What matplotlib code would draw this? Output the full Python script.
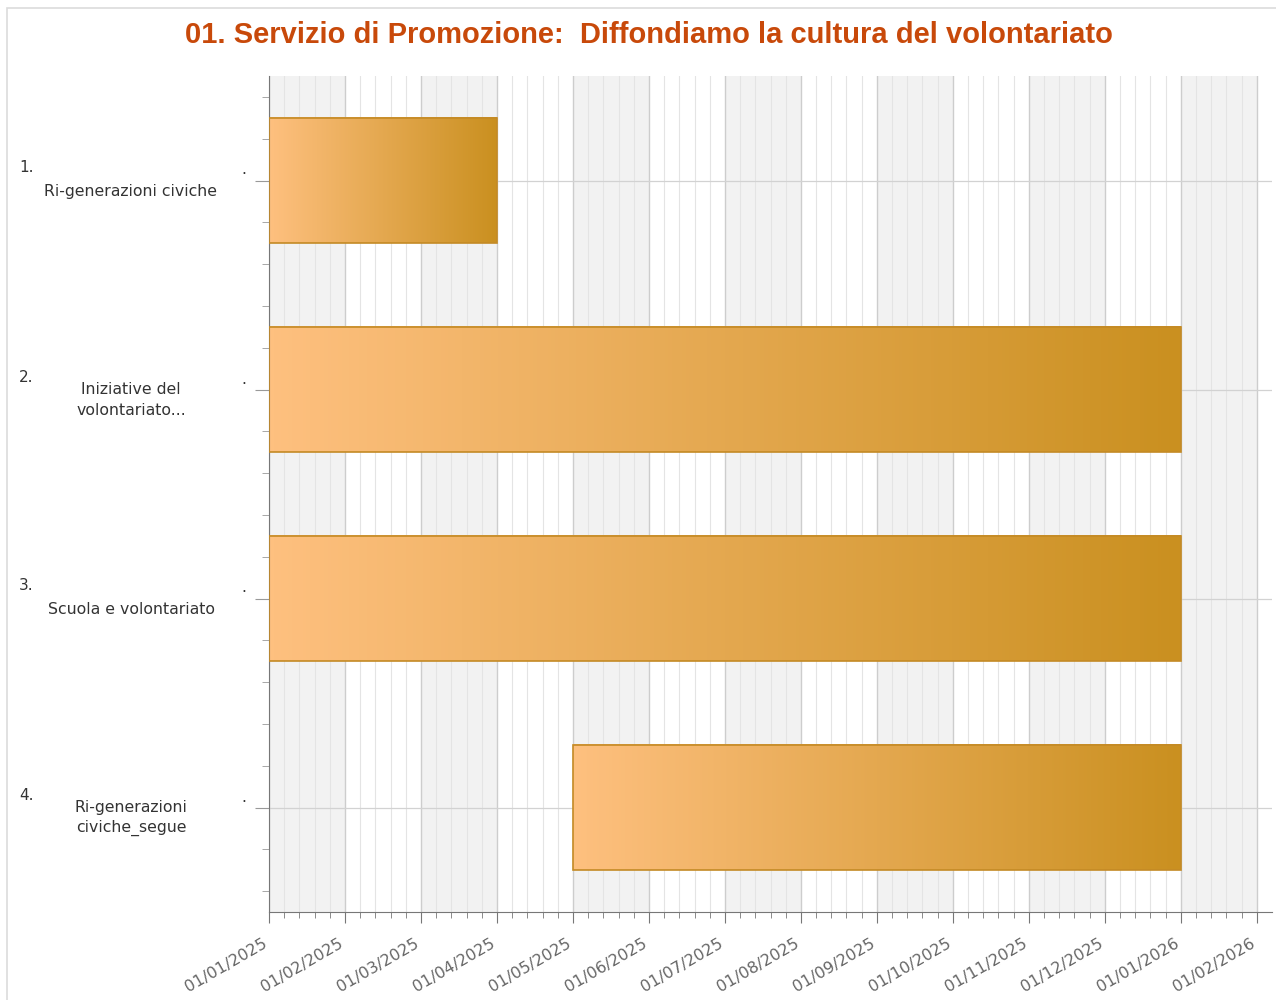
import numpy as np
import matplotlib
matplotlib.use("Agg")
import matplotlib.pyplot as plt
import matplotlib.transforms as mtransforms
from matplotlib.colors import LinearSegmentedColormap
from matplotlib.patches import Rectangle
import calendar

# data
task_nums = ["1.", "2.", "3.", "4."]
task_names = ["Ri-generazioni civiche", "Iniziative del\nvolontariato...",
              "Scuola e volontariato", "Ri-generazioni\nciviche_segue"]
starts = ["2025-01-01", "2025-01-01", "2025-01-01", "2025-05-01"]
ends = ["2025-04-01", "2026-01-01", "2026-01-01", "2026-01-01"]
month_labels = ["01/01/2025", "01/02/2025", "01/03/2025", "01/04/2025", "01/05/2025",
                "01/06/2025", "01/07/2025", "01/08/2025", "01/09/2025", "01/10/2025",
                "01/11/2025", "01/12/2025", "01/01/2026", "01/02/2026"]

title = "01. Servizio di Promozione:  Diffondiamo la cultura del volontariato"


# the chart puts every month at the same width, so work in month units
def month_pos(s):
    y, m, d = (int(v) for v in s.split("-"))
    return (y - 2025) * 12 + (m - 1) + (d - 1) / calendar.monthrange(y, m)[1]


fig = plt.figure(figsize=(12.76, 10), dpi=100)
fig.patches.append(Rectangle((7 / 1276, -0.01), 1, 1.002, transform=fig.transFigure,
                             fill=False, edgecolor="#dcdcdc", lw=1.2))
ax = fig.add_axes([269 / 1276, 88 / 1000, 1003 / 1276, 836 / 1000])

xmax = 13.2
n_m = len(month_labels)

# alternating month bands
for i in range(n_m):
    if i % 2 == 0:
        ax.axvspan(i, min(i + 1, xmax), color="#f2f2f2", zorder=0, lw=0)

minor = [x for x in np.arange(0, xmax, 0.2) if abs(x - round(x)) > 1e-6]
for x in minor:
    ax.axvline(x, color="#e4e4e4", lw=0.8, zorder=0.5)
for x in range(n_m):
    ax.axvline(x, color="#cdcdcd", lw=1.0, zorder=0.6)
for y in range(len(task_names)):
    ax.axhline(y, color="#d2d2d2", lw=0.9, zorder=0.6)

# gradient bars
cmap = LinearSegmentedColormap.from_list("g", ["#fec07f", "#ca9020"])
grad = np.linspace(0, 1, 256).reshape(1, -1)
h = 0.3
for i, (s, e) in enumerate(zip(starts, ends)):
    x0, x1 = month_pos(s), month_pos(e)
    ax.imshow(grad, cmap=cmap, extent=[x0, x1, i + h, i - h], aspect="auto",
              zorder=2, interpolation="bilinear")
    ax.add_patch(Rectangle((x0, i - h), x1 - x0, 2 * h, fill=False,
                           edgecolor="#c48a25", lw=1.2, zorder=3))
ax.set_xlim(0, xmax)
ax.set_ylim(len(task_names) - 0.5, -0.5)

# ticks
ax.set_xticks(range(n_m))
ax.set_xticks(minor, minor=True)
ax.tick_params(axis="x", which="major", length=8, color="#777777", pad=4)
ax.tick_params(axis="x", which="minor", length=4, color="#777777")
ax.set_yticks(range(len(task_names)))
ax.set_yticklabels([])
ax.set_yticks(np.arange(-0.4, len(task_names) - 0.5, 0.2), minor=True)
ax.tick_params(axis="y", which="major", length=10, color="#999999")
ax.tick_params(axis="y", which="minor", length=5, color="#999999")
ax.set_xticklabels(month_labels, rotation=30, ha="right", rotation_mode="anchor",
                   fontsize=11.5, color="#666666")
shift = mtransforms.ScaledTranslation(-7 / 100, -7 / 100, fig.dpi_scale_trans)
for lab in ax.get_xticklabels():
    lab.set_transform(lab.get_transform() + shift)

for sp in ["top", "right"]:
    ax.spines[sp].set_visible(False)
for sp in ["left", "bottom"]:
    ax.spines[sp].set_color("#777777")

# y labels
for i, (n, name) in enumerate(zip(task_nums, task_names)):
    yfig = 1 - (181 + 209 * i) / 1000
    fig.text(19 / 1276, yfig + 0.013, n, fontsize=11, color="#333333", va="center")
    fig.text(241 / 1276, yfig + 0.011, ".", fontsize=11, color="#333333", va="center")
    fig.text(131 / 1276, yfig - 0.010, name, fontsize=11.3, color="#333333",
             ha="center", va="center", linespacing=1.45)

fig.text(649 / 1276, 1 - 35 / 1000, title, fontsize=21, color="#c8490a",
         ha="center", va="center", family="Liberation Sans", fontweight="bold")

fig.savefig("out.png", dpi=100)
